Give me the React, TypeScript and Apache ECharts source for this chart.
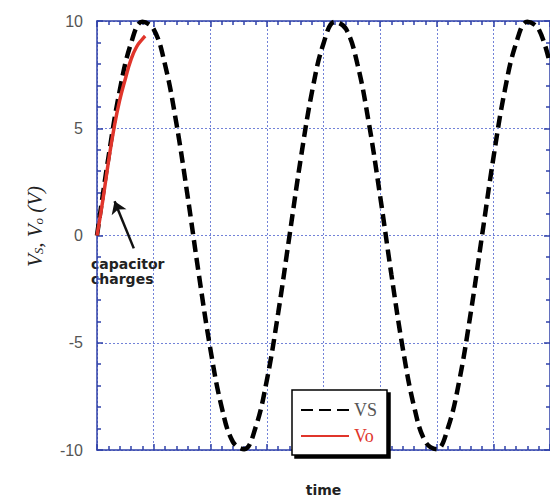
import React, { useEffect, useRef } from "react";
import * as echarts from "echarts";

// VS: source voltage
const timeVS = [0, 0.2, 0.4, 0.6, 0.8, 1.0, 1.2, 1.4, 1.6, 1.8, 2.0, 2.2, 2.4, 2.6, 2.8, 3.0, 3.2, 3.4, 3.6, 3.8, 4.0, 4.2, 4.4, 4.6, 4.8, 5.0, 5.2, 5.4, 5.6, 5.8, 6.0, 6.2, 6.4, 6.6, 6.8, 7.0, 7.2, 7.4, 7.6, 7.8, 8.0];
const valuesVS = [0, 3.61, 6.74, 8.95, 9.96, 9.62, 7.98, 5.26, 1.84, -1.84, -5.26, -7.98, -9.62, -9.96, -8.95, -6.74, -3.61, 0, 3.61, 6.74, 8.95, 9.96, 9.62, 7.98, 5.26, 1.84, -1.84, -5.26, -7.98, -9.62, -9.96, -8.95, -6.74, -3.61, 0, 3.61, 6.74, 8.95, 9.96, 9.62, 7.98];

// Vo: output voltage while the capacitor charges
const timeVo = [0, 0.1, 0.2, 0.3, 0.4, 0.5, 0.6, 0.7, 0.8, 0.85];
const valuesVo = [0, 1.6, 3.4, 5.0, 6.3, 7.3, 8.2, 8.8, 9.15, 9.3];

// annotation arrow (tail, head) in data coordinates
const arrowTail = [0.65, -0.6];
const arrowHead = [0.31, 1.6];

const seriesNames = ["VS", "Vo"];

const AXIS = "#2f40a8";
const GRID = "#7282d8";
const RED = "#e0352b";

export default function App() {
  const ref = useRef<HTMLDivElement>(null);
  useEffect(() => {
    if (!ref.current) return;
    const chart = echarts.init(ref.current, undefined, { renderer: "svg" });
    const vsData = timeVS.map((t, i) => [t, valuesVS[i]]);
    const voData = timeVo.map((t, i) => [t, valuesVo[i]]);
    const baseAxis = {
      type: "value" as const,
      axisLine: { show: true, onZero: false, lineStyle: { color: AXIS, width: 1.5 } },
      axisTick: { show: true, inside: true, length: 6, lineStyle: { color: AXIS, width: 1.5 } },
      minorTick: { show: true, splitNumber: 5, length: 4, lineStyle: { color: AXIS, width: 1.5 } },
    };
    chart.setOption({
      animation: false,
      backgroundColor: "#ffffff",
      grid: { left: 97, top: 21, right: -1, bottom: 48, containLabel: false },
      xAxis: [
        {
          ...baseAxis,
          position: "bottom",
          min: 0,
          max: 8,
          interval: 1,
          axisLabel: { show: false },
          splitLine: { show: true, lineStyle: { color: GRID, type: [2, 2], width: 1 } },
          name: "time",
          nameLocation: "middle",
          nameGap: 33,
          nameTextStyle: { fontFamily: "DejaVu Sans", fontWeight: "bold", fontSize: 14, color: "#222" },
        },
        {
          ...baseAxis,
          position: "top",
          min: 0,
          max: 8,
          interval: 1,
          axisLabel: { show: false },
          splitLine: { show: false },
        },
      ],
      yAxis: [
        {
          ...baseAxis,
          position: "left",
          min: -10,
          max: 10,
          interval: 5,
          axisLabel: {
            show: true,
            margin: 14,
            fontFamily: "Liberation Sans",
            fontSize: 16,
            color: "#555",
            padding: [0, 0, 6, 0],
          },
          splitLine: { show: true, lineStyle: { color: GRID, type: [2, 2], width: 1 } },
          name: "{v|V}{sub|S}{v|, V}{sub|o}{v| (V)}",
          nameLocation: "middle",
          nameGap: 52,
          nameTextStyle: {
            padding: [0, 0, 0, 18],
            rich: {
              v: { fontFamily: "Liberation Serif", fontStyle: "italic", fontSize: 21, color: "#222" },
              sub: { fontFamily: "Liberation Serif", fontStyle: "italic", fontSize: 13, color: "#222", verticalAlign: "bottom", padding: [8, 0, 0, 0] },
            },
          },
        },
        {
          ...baseAxis,
          position: "right",
          min: -10,
          max: 10,
          interval: 5,
          axisLabel: { show: false },
          splitLine: { show: false },
        },
      ],
      legend: {
        show: true,
        orient: "vertical",
        left: 292,
        top: 390,
        padding: [11, 10, 10, 8],
        itemWidth: 48,
        itemHeight: 14,
        itemGap: 8,
        backgroundColor: "#ffffff",
        borderColor: "#000",
        borderWidth: 1.5,
        shadowColor: "#000",
        shadowBlur: 0,
        shadowOffsetX: 3,
        shadowOffsetY: 3,
        itemStyle: { opacity: 0, borderWidth: 0 },
        textStyle: { fontFamily: "Liberation Serif", fontSize: 18 },
        data: [
          { name: seriesNames[0], textStyle: { color: "#555" } },
          { name: seriesNames[1], textStyle: { color: RED } },
        ],
      },
      series: [
        {
          name: seriesNames[0],
          type: "line",
          data: vsData,
          smooth: 0.4,
          showSymbol: false,
          symbol: "none",
          lineStyle: { color: "#000", width: 4.5, type: [12, 6], cap: "butt" },
          itemStyle: { color: "#000" },
          z: 2,
        },
        {
          name: seriesNames[1],
          type: "line",
          data: voData,
          smooth: true,
          showSymbol: false,
          symbol: "none",
          lineStyle: { color: RED, width: 3.5 },
          itemStyle: { color: RED },
          z: 3,
          markLine: {
            silent: true,
            symbol: ["none", "arrow"],
            symbolSize: 12,
            label: { show: false },
            lineStyle: { color: "#111", width: 2.5, type: "solid" },
            emphasis: { disabled: true },
            data: [[{ coord: arrowTail }, { coord: arrowHead }]],
          },
        },
      ],
      graphic: [
        {
          type: "text",
          left: 91,
          top: 256,
          style: {
            text: "capacitor\ncharges",
            font: 'bold 14px "DejaVu Sans"',
            fill: "#222",
            lineHeight: 15,
          },
        },
      ],
    });
    return () => chart.dispose();
  }, []);
  return (
    <div
      ref={ref}
      style={{ position: "absolute", left: 0, top: 0, width: 550, height: 502 }}
    />
  );
}
